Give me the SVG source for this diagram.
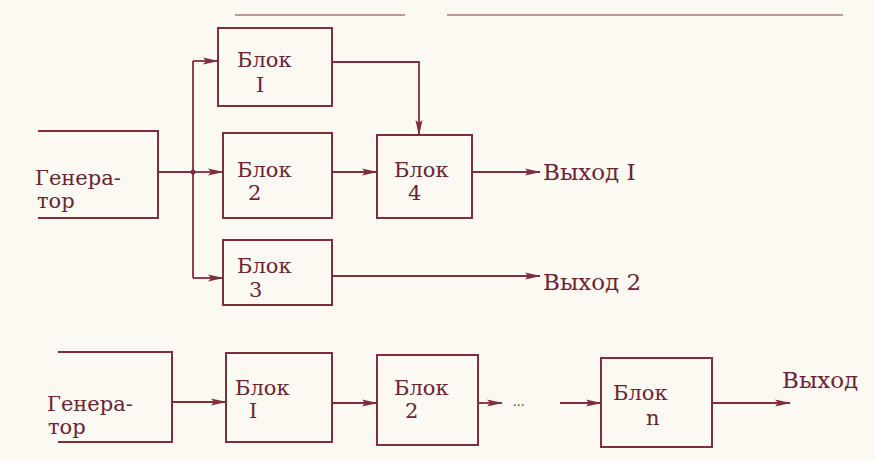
<svg xmlns="http://www.w3.org/2000/svg" width="875" height="461" viewBox="0 0 875 461">
<defs>
<marker id="ah" markerWidth="16" markerHeight="10" refX="15" refY="5" orient="auto" markerUnits="userSpaceOnUse">
<path d="M0,1.5 L16,5 L0,8.5 L3,5 Z" fill="#7d2f3d"/>
</marker>
</defs>
<style>
.box{fill:none;stroke:#7d2f3d;stroke-width:2}
.ln{fill:none;stroke:#7d2f3d;stroke-width:1.8}
.ar{fill:none;stroke:#7d2f3d;stroke-width:1.8;marker-end:url(#ah)}
text{font-family:"DejaVu Serif","Liberation Serif",serif;fill:#6a2434;font-size:21px}
.out{font-size:23px}
</style>
<rect width="875" height="461" fill="#fbf9f1"/>
<path d="M235,15 L405,15 M447,15 L843,15" stroke="#8a3f4c" stroke-width="1.5" opacity="0.7" fill="none"/>

<g id="gen1">
<path class="box" d="M38,131 L158,131 L158,218 L38,218"/>
<text x="35" y="185">Генера-</text>
<text x="37" y="208">тор</text>
</g>
<g id="blok1">
<rect class="box" x="218" y="28" width="114" height="78"/>
<text x="237" y="67">Блок</text>
<text x="256" y="92">I</text>
</g>
<g id="blok2">
<rect class="box" x="223" y="133" width="109" height="85"/>
<text x="237" y="177">Блок</text>
<text x="248" y="200">2</text>
</g>
<g id="blok3">
<rect class="box" x="223" y="240" width="109" height="65"/>
<text x="237" y="273">Блок</text>
<text x="249" y="297">3</text>
</g>
<g id="blok4">
<rect class="box" x="377" y="135" width="95" height="83"/>
<text x="394" y="177">Блок</text>
<text x="408" y="200">4</text>
</g>
<g id="out1"><text class="out" x="543" y="180">Выход I</text></g>
<g id="out2"><text class="out" x="543" y="290">Выход 2</text></g>

<g id="gen2">
<path class="box" d="M58,352 L172,352 L172,442 L58,442"/>
<text x="47" y="411">Генера-</text>
<text x="48" y="434">тор</text>
</g>
<g id="b1">
<rect class="box" x="226" y="353" width="106" height="89"/>
<text x="235" y="395">Блок</text>
<text x="249" y="418">I</text>
</g>
<g id="b2">
<rect class="box" x="377" y="355" width="101" height="90"/>
<text x="394" y="395">Блок</text>
<text x="405" y="418">2</text>
</g>
<g id="bn">
<rect class="box" x="601" y="358" width="111" height="89"/>
<text x="613" y="400">Блок</text>
<text x="646" y="425">n</text>
</g>
<g id="out3"><text class="out" x="782" y="388">Выход</text></g>

<g id="connectors">
<path class="ln" d="M158,172 L193,172 M193,61 L193,278"/>
<circle cx="193" cy="172" r="2.5" fill="#7d2f3d"/>
<path class="ar" d="M193,61 L218,61"/>
<path class="ar" d="M193,172 L223,172"/>
<path class="ar" d="M193,278 L223,278"/>
<path class="ar" d="M332,172 L377,172"/>
<path class="ar" d="M332,62 L419,62 L419,135"/>
<path class="ar" d="M472,172 L540,172"/>
<path class="ar" d="M332,276 L540,276"/>
<path class="ar" d="M172,402 L226,402"/>
<path class="ar" d="M332,403 L377,403"/>
<path class="ar" d="M478,403 L502,403"/>
<text x="513" y="406" style="font-size:12px">...</text>
<path class="ar" d="M560,403 L601,403"/>
<path class="ar" d="M712,403 L790,403"/>
</g>
</svg>
